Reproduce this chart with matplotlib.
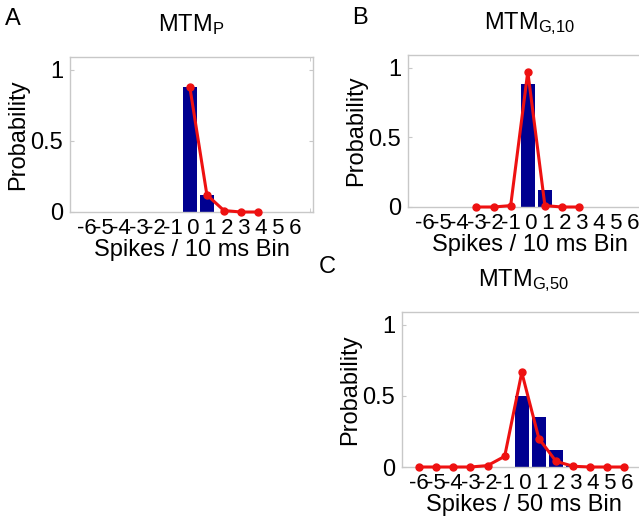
import matplotlib
matplotlib.use("Agg")
import matplotlib.pyplot as plt
import numpy as np

plt.rcParams['font.family'] = ['Liberation Sans', 'DejaVu Sans']
plt.rcParams['mathtext.fontset'] = 'custom'
plt.rcParams['mathtext.rm'] = 'Liberation Sans'
plt.rcParams['mathtext.it'] = 'Liberation Sans'
plt.rcParams['axes.unicode_minus'] = False

# Panel A: MTM_P
a_bar_x = [0, 1]
a_bar_y = [0.88, 0.12]
a_line_x = [0, 1, 2, 3, 4]
a_line_y = [0.88, 0.12, 0.01, 0.0, 0.0]

# Panel B: MTM_G,10
b_bar_x = [0, 1]
b_bar_y = [0.88, 0.12]
b_line_x = [-3, -2, -1, 0, 1, 2, 3]
b_line_y = [0.0, 0.0, 0.01, 0.97, 0.01, 0.0, 0.0]

# Panel C: MTM_G,50
c_bar_x = [0, 1, 2, 3]
c_bar_y = [0.50, 0.35, 0.12, 0.01]
c_line_x = [-6, -5, -4, -3, -2, -1, 0, 1, 2, 3, 4, 5, 6]
c_line_y = [0.0, 0.0, 0.0, 0.0, 0.01, 0.075, 0.665, 0.20, 0.04, 0.005, 0.0, 0.0, 0.0]

xticks = [-6, -5, -4, -3, -2, -1, 0, 1, 2, 3, 4, 5, 6]
xtick_labels = ['-6', '-5', '-4', '-3', '-2', '-1',
                ' 0', ' 1', ' 2', ' 3', ' 4', ' 5', ' 6']
yticks = [0, 0.5, 1]
ytick_labels = ['0', '0.5', '1']

W, H = 639, 517
fig = plt.figure(figsize=(W / 100, H / 100), dpi=100)

bar_color = '#000090'
line_color = '#ee1111'
spine_color = '#c8c8c8'
fs = 17
tfs = 16


def make_panel(rect, bx, by, lx, ly, title, xlabel, letter, letter_pos):
    ax = fig.add_axes(rect)
    ax.bar(bx, by, width=0.8, color=bar_color, zorder=2)
    ax.plot(lx, ly, color=line_color, lw=2.2, marker='o', ms=5,
            markerfacecolor=line_color, markeredgecolor=line_color, zorder=3,
            clip_on=False)
    ax.set_xlim(-7, 7.2)
    ax.set_ylim(0, 1.09)
    ax.set_xticks(xticks)
    ax.set_xticklabels(xtick_labels)
    ax.set_xticks(np.arange(-7, 8), minor=True)
    ax.set_yticks(yticks)
    ax.set_yticklabels(ytick_labels)
    ax.tick_params(axis='both', which='both', direction='in', top=True,
                   right=True, color=spine_color, length=3, pad=1)
    ax.tick_params(axis='x', which='major', length=0, pad=4, labelsize=tfs)
    ax.tick_params(axis='y', which='major', pad=5, labelsize=fs)
    for s in ax.spines.values():
        s.set_color(spine_color)
        s.set_linewidth(1.0)
    ax.set_xlabel(xlabel, fontsize=fs, labelpad=0)
    ax.set_ylabel('Probability', fontsize=fs, labelpad=1)
    ax.set_title(title, fontsize=fs, pad=19)
    fig.text(letter_pos[0] / W, 1 - letter_pos[1] / H, letter, fontsize=fs,
             ha='left', va='baseline')
    return ax


make_panel([70 / W, 1 - 212 / H, 243 / W, 155 / H], a_bar_x, a_bar_y,
           a_line_x, a_line_y, r'MTM$_\mathrm{P}$', 'Spikes / 10 ms Bin',
           'A', (5, 25))
make_panel([408 / W, 1 - 207 / H, 243 / W, 152 / H], b_bar_x, b_bar_y,
           b_line_x, b_line_y, r'MTM$_\mathrm{G{,}10}$', 'Spikes / 10 ms Bin',
           'B', (352, 24))
make_panel([402 / W, 1 - 467 / H, 243 / W, 155 / H], c_bar_x, c_bar_y,
           c_line_x, c_line_y, r'MTM$_\mathrm{G{,}50}$', 'Spikes / 50 ms Bin',
           'C', (319, 273))

fig.savefig('out.png', dpi=100)
